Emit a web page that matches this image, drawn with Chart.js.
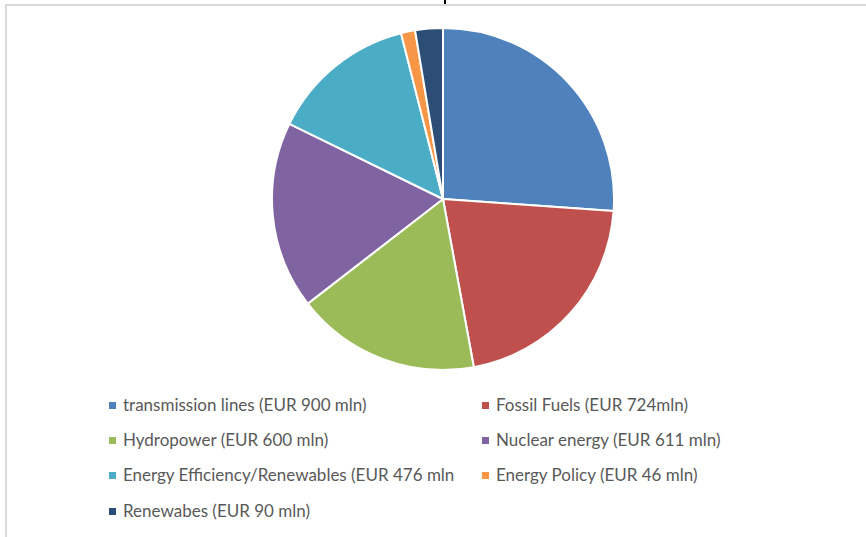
<!DOCTYPE html>
<html>
<head>
<meta charset="utf-8">
<script src="https://cdn.jsdelivr.net/npm/chart.js@4/dist/chart.umd.min.js"></script>
<style>
  body { margin:0; background:#fff; width:866px; height:537px; overflow:hidden; position:relative; font-family: Lato, "Open Sans", sans-serif; }
  #frame { position:absolute; left:5px; top:4px; width:870px; height:560px; border-left:2px solid #d9d9d9; border-top:2px solid #d9d9d9; }
  #tick { position:absolute; left:444px; top:0; width:2px; height:4px; background:#000; }
  #pieBox { position:absolute; left:271px; top:27px; width:344px; height:344px; }
  #legend { position:absolute; left:109px; top:395px; }
  .item { position:absolute; white-space:nowrap; font-size:17px; color:#595959; height:20px; line-height:20px; }
  .item i { display:inline-block; width:7px; height:7px; margin-right:7px; vertical-align:2px; }
</style>
</head>
<body>
<div id="frame"></div>
<div id="tick"></div>
<div id="pieBox"><canvas id="pie"></canvas></div>
<div id="legend"></div>
<script>
// datos del grafico
var categorias = ["transmission lines (EUR 900 mln)", "Fossil Fuels (EUR 724mln)", "Hydropower (EUR 600 mln)",
                  "Nuclear energy (EUR 611 mln)", "Energy Efficiency/Renewables (EUR 476 mln",
                  "Energy Policy (EUR 46 mln)", "Renewabes (EUR 90 mln)"];
var valores = [900, 724, 600, 611, 476, 46, 90];
var colores = ["#4F81BD", "#C0504D", "#9BBB59", "#8064A2", "#4BACC6", "#F79646", "#2C4D75"];

function renderChart(){
	var ctx = document.querySelector('#pie').getContext('2d');
	new Chart(ctx, {
		type: "pie",
		data: {
			labels: categorias,
			datasets: [{
				data: valores,
				backgroundColor: colores,
				borderColor: "#ffffff",
				borderWidth: 2
			}]
		},
		options: {
			responsive: true,
			maintainAspectRatio: false,
			animation: false,
			layout: { padding: 0 },
			plugins: { legend: { display: false }, tooltip: { enabled: false } }
		}
	});
}

function renderLegend(){
	var box = document.getElementById('legend');
	var colX = [0, 373], rowY = [0, 35, 70, 106];
	categorias.forEach(function(txt, i){
		var d = document.createElement('div');
		d.className = 'item';
		d.style.left = colX[i % 2] + 'px';
		d.style.top = rowY[Math.floor(i / 2)] + 'px';
		d.innerHTML = '<i style="background:' + colores[i] + '"></i>';
		d.appendChild(document.createTextNode(txt));
		box.appendChild(d);
	});
}

renderChart();
renderLegend();
</script>
</body>
</html>
